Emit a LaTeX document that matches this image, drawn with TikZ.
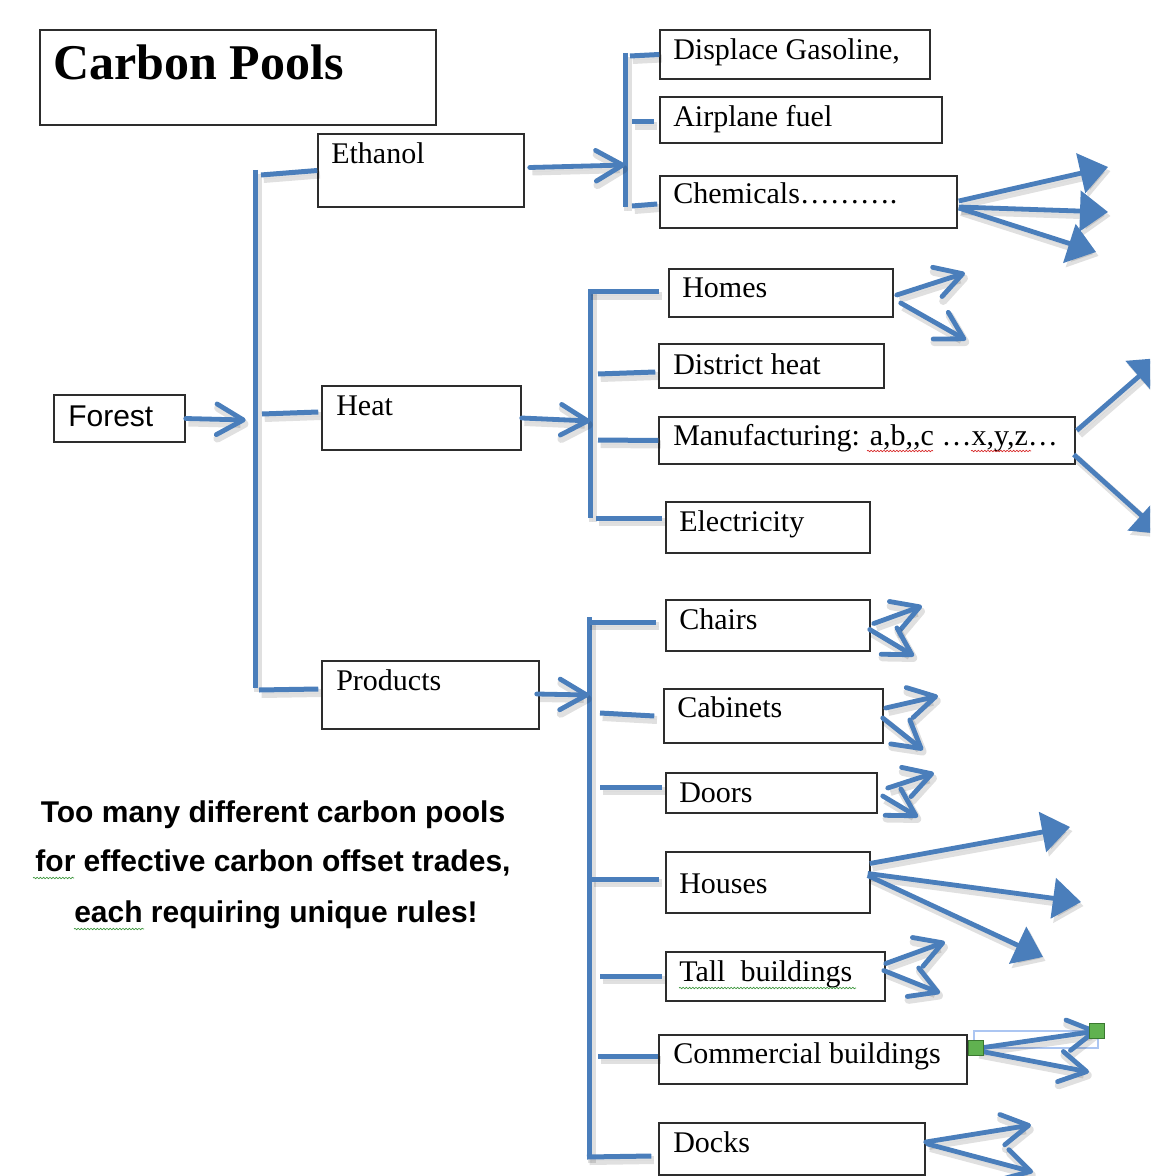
\documentclass[tikz,border=0pt]{standalone}
\usepackage{fontspec}
\setmainfont{Liberation Serif}
\newfontfamily\arialf{Liberation Sans}
\usetikzlibrary{arrows.meta,fit,calc,decorations.pathmorphing}
\definecolor{lineblue}{RGB}{74,126,187}
\definecolor{boxgray}{RGB}{45,45,45}
\definecolor{handlegreen}{RGB}{96,178,80}
\definecolor{handledark}{RGB}{58,120,48}
\definecolor{selblue}{RGB}{172,198,242}
\definecolor{wavyred}{RGB}{215,40,40}
\definecolor{wavygreen}{RGB}{60,150,60}
\begin{document}
\begin{tikzpicture}[x=0.75pt,y=-0.75pt,
  shadowed/.style={preaction={draw=black,fill=black,opacity=0.12,line width=6pt,transform canvas={shift={(2pt,-3pt)}}}},
  box/.style={draw=boxgray,line width=1.1pt,inner sep=0pt,rectangle},
  lbl/.style={anchor=base west,inner sep=0pt,font=\fontsize{22.5pt}{27pt}\selectfont},
  note/.style={anchor=base,inner sep=0pt,font=\arialf\bfseries\fontsize{22.5pt}{27pt}\selectfont},
  conn/.style={shadowed,draw=lineblue,line width=3.75pt},
  barb/.style={shadowed,draw=lineblue,line width=3.6pt,line cap=round,-{Straight Barb[length=20pt,width=23pt,round]}},
  tri/.style={shadowed,draw=lineblue,line width=3.6pt,-{Triangle[length=21pt,width=30pt]}},
  wavy/.style={decorate,decoration={snake,amplitude=0.55pt,segment length=2.4pt},line width=0.5pt},
  handle/.style={draw=handledark,fill=handlegreen,minimum size=11pt,inner sep=0pt,line width=0.6pt,rectangle},
]
\useasboundingbox (0,0) rectangle (1150,1176);
\clip (0,0) rectangle (1150,1176);

% ---------- boxes ----------
\node[box,fit={(40,30)(436,125)}] (title) {};
\node[anchor=base west,inner sep=0pt,font=\fontsize{37.5pt}{45pt}\selectfont\bfseries] (titleT) at (53,80) {Carbon Pools};

\node[box,fit={(54,395)(185,442)}] (forest) {};
\node[lbl,font=\arialf\fontsize{22.5pt}{27pt}\selectfont] (forestT) at (68,426) {Forest};

\node[box,fit={(318,134)(524,207)}] (eth) {};
\node[lbl] (ethT) at (331,164) {Ethanol};
\node[box,fit={(322,386)(521,450)}] (heat) {};
\node[lbl] (heatT) at (336,415) {Heat};
\node[box,fit={(322,661)(539,729)}] (prod) {};
\node[lbl] (prodT) at (336,690) {Products};

\node[box,fit={(660,30)(930,79)}] (dg) {};
\node[lbl] (dgT) at (673,60) {Displace Gasoline,};
\node[box,fit={(660,97)(942,143)}] (af) {};
\node[lbl] (afT) at (673,127) {Airplane fuel};
\node[box,fit={(660,176)(957,228)}] (ch) {};
\node[lbl] (chT) at (673,204) {Chemicals……….};

\node[box,fit={(669,269)(893,317)}] (ho) {};
\node[lbl] (hoT) at (682,298) {Homes};
\node[box,fit={(659,344)(884,388)}] (dh) {};
\node[lbl] (dhT) at (673,374) {District heat};
\node[box,fit={(659,417)(1075,464)}] (mf) {};
\node[lbl] (mfT) at (673,445) {Manufacturing: a,b,{},c …x,y,z…};
\node[box,fit={(666,502)(870,553)}] (el) {};
\node[lbl] (elT) at (679,531) {Electricity};

\node[box,fit={(666,600)(870,651)}] (chr) {};
\node[lbl] (chrT) at (679,629) {Chairs};
\node[box,fit={(664,689)(883,743)}] (cab) {};
\node[lbl] (cabT) at (677,717) {Cabinets};
\node[box,fit={(666,773)(877,813)}] (door) {};
\node[lbl] (doorT) at (679,802) {Doors};
\node[box,fit={(666,852)(870,913)}] (hou) {};
\node[lbl] (houT) at (679,893) {Houses};
\node[box,fit={(666,952)(885,1001)}] (tall) {};
\node[lbl] (tallT) at (679,981) {Tall\ \ buildings};
\node[box,fit={(659,1035)(967,1084)}] (com) {};
\node[lbl] (comT) at (673,1063) {Commercial buildings};
\node[box,fit={(659,1123)(925,1175)}] (dock) {};
\node[lbl] (dockT) at (673,1152) {Docks};

% ---------- wavy underlines ----------
\draw[wavy,wavyred] (867,451) -- (933,451);
\draw[wavy,wavyred] (971,451) -- (1031,451);
\draw[wavy,wavygreen] (679,988) -- (856,988);
\draw[wavy,wavygreen] (33,878) -- (74,878);
\draw[wavy,wavygreen] (74,929) -- (144,929);

% ---------- note ----------
\node[note] (n1) at (273,822) {Too many different carbon pools};
\node[note] (n2) at (273,871) {for effective carbon offset trades,};
\node[note] (n3) at (276,922) {each requiring unique rules!};

% ---------- trunk ----------
\coordinate (tTop) at (255,170);
\coordinate (tBot) at (255,688);
\draw[conn] (tTop) -- (tBot);
\draw[conn] (261,175) -- (eth.west);
\draw[conn] (262,414) -- ($(heat.west)+(-3,-6)$);
\draw[conn] (259,690) -- ($(prod.west)+(-3,-6)$);
\draw[barb] (forest.east) -- ($(forest.east)+(60,1.5)$);

% ---------- branch 1 ----------
\coordinate (b1Top) at (625,53);
\coordinate (b1Bot) at (625,207);
\draw[conn] (b1Top) -- (b1Bot);
\draw[barb] ($(eth.east)+(5,-3)$) -- (b1Top |- 0,165);
\draw[conn] (630,56) -- (dg.west);
\draw[conn] (632,122) -- ($(af.west)+(-5,2)$);
\draw[conn] (632,206) -- ($(ch.west)+(-2,2)$);

% ---------- branch 2 ----------
\coordinate (b2Top) at (590,290);
\coordinate (b2Bot) at (590,518);
\draw[conn] (b2Top) -- (b2Bot);
\draw[barb] (heat.east) -- (b2Top |- 0,421);
\draw[conn] (588,292) -- ($(ho.west)+(-9,-1)$);
\draw[conn] (598,374) -- ($(dh.west)+(-3,6)$);
\draw[conn] (598,440) -- (mf.west);
\draw[conn] (596,518) -- ($(el.west)+(-3,-9.5)$);

% ---------- branch 3 ----------
\coordinate (b3Top) at (589,617);
\coordinate (b3Bot) at (589,1159);
\draw[conn] (b3Top) -- (b3Bot);
\draw[barb] ($(prod.east)+(-3,-1)$) -- (b3Top |- 0,695);
\draw[conn] (587,622) -- ($(chr.west)+(-9,-3.5)$);
\draw[conn] (600,713) -- ($(cab.west)+(-9,0)$);
\draw[conn] (600,787) -- ($(door.west)+(-3,-6)$);
\draw[conn] (591,879) -- ($(hou.west)+(-6,-3.5)$);
\draw[conn] (600,976) -- ($(tall.west)+(-3,-0.5)$);
\draw[conn] (598,1056) -- ($(com.west)+(0,-3.5)$);
\draw[conn] (587,1157) -- ($(dock.west)+(-7,7)$);

% ---------- outgoing arrows ----------
\draw[tri] ($(ch.east)+(1,-1)$) -- (1108,167);
\draw[tri] ($(ch.east)+(1,5)$) -- (1108,212);
\draw[tri] ($(ch.east)+(1,6)$) -- (1096,252);

\draw[barb] ($(ho.east)+(3,2)$) -- (965,273);
\draw[barb] ($(ho.east)+(7,10)$) -- (966,340);

\draw[tri] ($(mf.east)+(1,-10)$) -- (1160,358);
\draw[tri] ($(mf.east)+(-2,14)$) -- (1162,534);

\draw[barb] ($(chr.east)+(3,-2)$) -- (922,606);
\draw[barb] ($(chr.east)+(-1,4)$) -- (914,656);

\draw[barb] ($(cab.east)+(2,-8)$) -- (938,696);
\draw[barb] ($(cab.east)+(-1,2)$) -- (923,750);

\draw[barb] ($(door.east)+(10,-5)$) -- (934,773);
\draw[barb] ($(door.east)+(5,3)$) -- (918,817);

\draw[tri] ($(hou.east)+(-1,-19)$) -- (1070,827);
\draw[tri] ($(hou.east)+(-3,-9)$) -- (1081,902);
\draw[tri] ($(hou.east)+(-3,-7)$) -- (1043,957);

\draw[barb] ($(tall.east)+(0,-13)$) -- (945,942);
\draw[barb] ($(tall.east)+(-2,-6)$) -- (940,993);

\draw[selblue,line width=0.8pt] (974,1031) rectangle (1098,1048);
\draw[barb] ($(com.east)+(9,-11)$) -- (1097,1031);
\draw[barb] ($(com.east)+(9,-9)$) -- (1089,1072);
\node[handle] (hA) at (976,1048) {};
\node[handle] (hB) at (1097,1031) {};

\draw[barb] ($(dock.east)+(0,-7)$) -- (1031,1125);
\draw[barb] ($(dock.east)+(2,-5)$) -- (1033,1172);
\end{tikzpicture}
\end{document}
